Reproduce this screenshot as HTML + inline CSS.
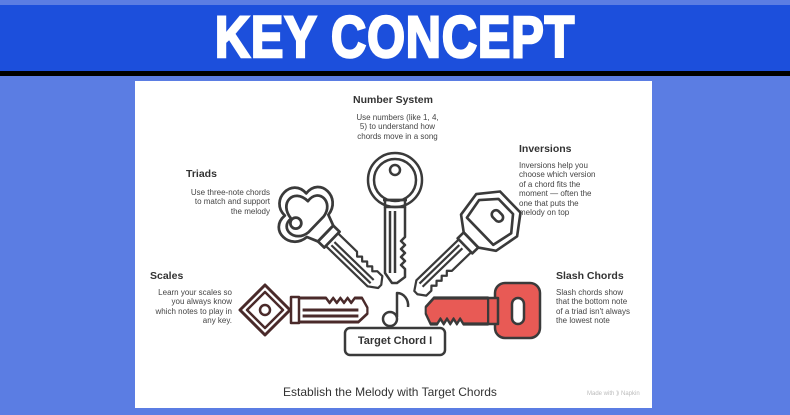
<!DOCTYPE html>
<html><head><meta charset="utf-8"><style>
body{margin:0;width:790px;height:415px;background:#5b7de3;position:relative;overflow:hidden;font-family:"Liberation Sans",sans-serif}
.band{position:absolute;left:0;top:5px;width:790px;height:66px;background:#1c4fdc}
.blk{position:absolute;left:0;top:71px;width:790px;height:5px;background:#000}
.title{position:absolute;left:0;width:790px;top:4px;text-align:center;color:#fff;font-weight:bold;font-size:58px;letter-spacing:1px;transform:scaleX(0.84);transform-origin:395px 0;-webkit-text-stroke:2.5px #fff}
.card{position:absolute;left:135px;top:81px;width:517px;height:327px;background:#fff}
.t{position:absolute;font-weight:bold;font-size:10.5px;color:#333}
.d{position:absolute;font-size:8px;line-height:9.4px;color:#444}
</style></head><body>
<div class="band"></div><div class="blk"></div>
<div class="title">KEY CONCEPT</div>
<div class="card"></div>
<div class="t" style="left:353px;top:94px">Number System</div>
<div class="d" style="left:350px;top:113px;width:95px;text-align:center">Use numbers (like 1, 4,<br>5) to understand how<br>chords move in a song</div>
<div class="t" style="left:186px;top:168px">Triads</div>
<div class="d" style="left:170px;top:188px;width:100px;text-align:right">Use three-note chords<br>to match and support<br>the melody</div>
<div class="t" style="left:519px;top:143px">Inversions</div>
<div class="d" style="left:519px;top:161px;width:110px">Inversions help you<br>choose which version<br>of a chord fits the<br>moment — often the<br>one that puts the<br>melody on top</div>
<div class="t" style="left:150px;top:270px">Scales</div>
<div class="d" style="left:130px;top:288px;width:102px;text-align:right">Learn your scales so<br>you always know<br>which notes to play in<br>any key.</div>
<div class="t" style="left:556px;top:270px">Slash Chords</div>
<div class="d" style="left:556px;top:288px;width:100px">Slash chords show<br>that the bottom note<br>of a triad isn't always<br>the lowest note</div>
<div style="position:absolute;left:0;width:790px;top:385px;text-align:center;font-size:12px;color:#333"><span style="margin-left:-10px">Establish the Melody with Target Chords</span></div>
<div style="position:absolute;left:587px;top:390px;font-size:6px;color:#bbb">Made with ⟫ Napkin</div>
<svg width="790" height="415" style="position:absolute;left:0;top:0" fill="none" stroke="#3a3a3a" stroke-width="2.5" stroke-linejoin="round">
<defs>
<g id="blade">
<path d="M-10,0 V66 L-3,76 H2 L10,70 V62 L6,58 L10,54 L6,50 L10,46 L6,42 L10,38 L6,34 L10,30 V0"/>
<path d="M-5,4 V66 M0,4 V66"/>
</g>
</defs>
<circle cx="395" cy="180" r="27"/><circle cx="395" cy="180" r="21"/><circle cx="395" cy="170" r="5"/>
<path d="M383,200 H407"/>
<rect x="385" y="200" width="20" height="7"/>
<use href="#blade" transform="translate(395,207)"/>
<g transform="translate(324,232) rotate(-46) scale(1.1)">
<path d="M-14,-8 C-34,-10 -34,-38 -14,-36 C-14,-56 16,-56 14,-36 C34,-38 34,-10 14,-8 L10,2 H-10 Z"/>
<path d="M-10,-10 C-26,-12 -26,-32 -12,-30 C-10,-48 10,-48 10,-30 C26,-32 26,-12 10,-10 Z"/>
<circle cx="-12" cy="-24" r="5"/>
<rect x="-10" y="2" width="20" height="8"/>
<use href="#blade" transform="translate(0,10) scale(0.8)"/>
</g>
<g transform="translate(471,240) rotate(46) scale(1.05)">
<path d="M-24,-10 L-28,-34 L-14,-52 H14 L28,-34 L24,-10 L10,0 H-10 Z"/>
<path d="M-18,-12 L-22,-32 L-10,-46 H10 L22,-32 L18,-12 Z"/>
<rect x="-5" y="-38" width="12" height="8" rx="4"/>
<rect x="-10" y="0" width="20" height="8"/>
<use href="#blade" transform="translate(0,8) scale(0.85)"/>
</g>
<g stroke="#4a2a2a">
<path d="M240,310 L265,285 L290,310 L265,335 Z" stroke-width="3"/>
<path d="M247,310 L265,292 L283,310 L265,328 Z"/>
<circle cx="265" cy="310" r="5"/>
<rect x="291" y="297" width="8" height="26"/>
<use href="#blade" transform="translate(299,310) rotate(-90) scale(1.2,0.9)"/>
</g>
<g stroke="#3a3a3a">
<rect x="495" y="283" width="45" height="55" rx="10" fill="#e85a55"/>
<rect x="512" y="298" width="12" height="26" rx="6" fill="#fff"/>
<rect x="488" y="298" width="10" height="26" fill="#e85a55"/>
<g transform="translate(488,311) rotate(90) scale(1.3,0.82)"><path fill="#e85a55" d="M-10,0 V66 L-3,76 H2 L10,70 V62 L6,58 L10,54 L6,50 L10,46 L6,42 L10,38 L6,34 L10,30 V0 Z"/></g>
</g>
<circle cx="390" cy="319" r="7"/>
<path d="M397,317 V293 C404,293 409,300 408,307"/>
<rect x="345" y="328" width="100" height="27" rx="5"/>
</svg>
<div class="t" style="left:345px;top:335px;width:100px;text-align:center;font-size:11px">Target Chord I</div>
</body></html>
